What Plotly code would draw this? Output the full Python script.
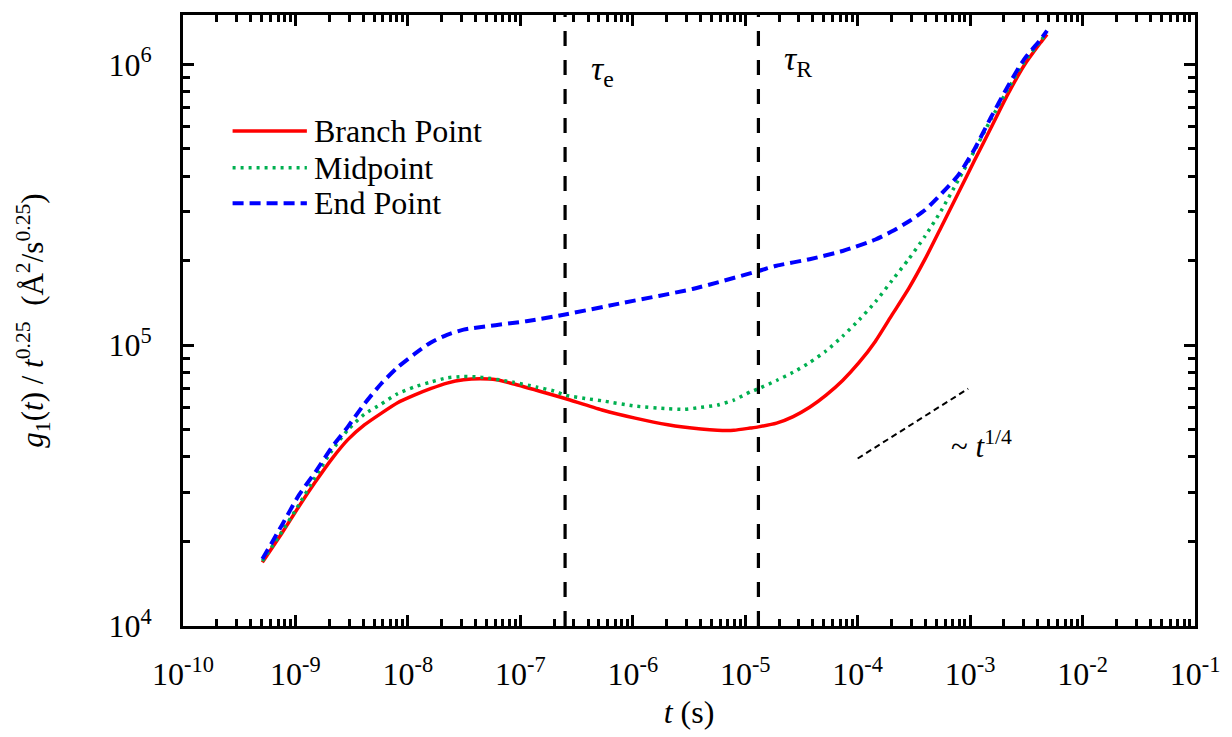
import numpy as np
import plotly.graph_objects as go

# ---------------- data ----------------
t_branch = [5.08e-10, 7.62e-10, 1.07e-9, 1.50e-9, 2.10e-9, 2.94e-9, 4.13e-9, 5.78e-9, 8.10e-9,
            1.14e-8, 1.59e-8, 2.23e-8, 3.13e-8, 4.38e-8, 6.14e-8, 8.61e-8, 1.69e-7, 2.50e-7,
            5.33e-7, 1.05e-6, 2.05e-6, 4.04e-6, 5.65e-6, 7.92e-6, 1.11e-5, 1.31e-5, 1.90e-5,
            2.67e-5, 3.74e-5, 5.24e-5, 7.35e-5, 1.03e-4, 1.44e-4, 2.02e-4, 2.84e-4, 3.97e-4,
            5.57e-4, 7.81e-4, 1.09e-3, 1.53e-3, 2.15e-3, 3.01e-3, 4.22e-3, 4.83e-3]
g_branch = [1.685e4, 2.147e4, 2.66e4, 3.254e4, 3.93e4, 4.62e4, 5.21e4, 5.72e4, 6.24e4,
            6.64e4, 7.00e4, 7.33e4, 7.53e4, 7.59e4, 7.53e4, 7.29e4, 6.76e4, 6.46e4,
            5.88e4, 5.50e4, 5.21e4, 5.03e4, 4.98e4, 4.98e4, 5.07e4, 5.12e4, 5.28e4,
            5.57e4, 6.01e4, 6.64e4, 7.49e4, 8.68e4, 1.034e5, 1.282e5, 1.590e5, 2.025e5,
            2.649e5, 3.468e5, 4.537e5, 5.935e5, 7.787e5, 9.89e5, 1.194e6, 1.28e6]

t_mid = [5.08e-10, 7.62e-10, 1.07e-9, 1.50e-9, 2.10e-9, 2.94e-9, 4.13e-9, 5.78e-9, 8.10e-9,
         1.14e-8, 1.59e-8, 2.23e-8, 3.13e-8, 4.38e-8, 8.61e-8, 1.38e-7, 2.00e-7, 2.50e-7,
         3.80e-7, 5.33e-7, 1.05e-6, 2.05e-6, 2.88e-6, 4.04e-6, 5.65e-6, 7.92e-6, 1.11e-5,
         1.31e-5, 1.90e-5, 2.67e-5, 3.74e-5, 5.24e-5, 7.35e-5, 1.03e-4, 1.44e-4, 2.02e-4,
         2.84e-4, 3.97e-4, 5.57e-4, 7.81e-4, 1.09e-3, 1.53e-3, 2.15e-3, 3.01e-3, 4.22e-3,
         4.83e-3]
g_mid = [1.703e4, 2.174e4, 2.70e4, 3.388e4, 4.20e4, 5.01e4, 5.69e4, 6.17e4, 6.72e4,
         7.10e4, 7.39e4, 7.65e4, 7.74e4, 7.70e4, 7.39e4, 7.10e4, 6.87e4, 6.64e4,
         6.46e4, 6.34e4, 6.07e4, 5.94e4, 5.91e4, 6.01e4, 6.12e4, 6.38e4, 6.82e4,
         7.00e4, 7.49e4, 8.01e4, 8.68e4, 9.54e4, 1.077e5, 1.231e5, 1.428e5, 1.700e5,
         2.025e5, 2.444e5, 3.03e5, 3.86e5, 4.92e5, 6.37e5, 8.11e5, 1.016e6, 1.211e6,
         1.30e6]

t_end = [5.08e-10, 7.62e-10, 1.07e-9, 1.50e-9, 2.10e-9, 2.94e-9, 4.13e-9, 5.78e-9, 8.10e-9,
         1.14e-8, 1.59e-8, 2.23e-8, 3.13e-8, 1.13e-7, 2.50e-7, 8.42e-7, 3.40e-6, 1.31e-5,
         1.90e-5, 3.74e-5, 7.35e-5, 1.44e-4, 2.02e-4, 2.84e-4, 3.97e-4, 5.57e-4, 7.81e-4,
         1.09e-3, 1.53e-3, 2.15e-3, 3.01e-3, 4.22e-3, 4.83e-3]
g_end = [1.731e4, 2.296e4, 2.92e4, 3.53e4, 4.32e4, 5.14e4, 6.20e4, 7.29e4, 8.34e4,
         9.29e4, 1.021e5, 1.089e5, 1.136e5, 1.218e5, 1.287e5, 1.419e5, 1.586e5, 1.838e5,
         1.919e5, 2.025e5, 2.166e5, 2.38e5, 2.544e5, 2.758e5, 3.03e5, 3.468e5, 4.02e5,
         4.98e5, 6.47e5, 8.31e5, 1.041e6, 1.225e6, 1.32e6]

t_guide = [1.0e-4, 9.6e-4]
g_guide = [3.95e4, 7.0e4]

tau_e = 2.5e-7
tau_R = 1.31e-5

series_names = ["Branch Point", "Midpoint", "End Point"]

x_tick_exps = list(range(-10, 0))
y_tick_exps = [4, 5, 6]
x_range_exp = [-10, -1]
y_range_val = [1e4, 1.5e6]

# ---------------- styling ----------------
FONT = "Liberation Serif, Times New Roman, serif"
styles = [
    dict(color="#FF0000", width=3.5, dash="solid"),
    dict(color="#00B050", width=3.5, dash="3px,5px"),
    dict(color="#0000FF", width=4, dash="11px,6px"),
]

fig = go.Figure()
for name, tx, gy, st in zip(series_names, [t_branch, t_mid, t_end],
                             [g_branch, g_mid, g_end], styles):
    fig.add_trace(go.Scatter(x=tx, y=gy, mode="lines", name=name,
                             line=dict(shape="spline", smoothing=0.6, **st),
                             showlegend=False))

# vertical reference lines
for tau in [tau_e, tau_R]:
    fig.add_trace(go.Scatter(x=[tau, tau], y=y_range_val, mode="lines",
                             line=dict(color="black", width=3.2, dash="15px,14px"),
                             showlegend=False, hoverinfo="skip"))

# t^1/4 guide
fig.add_trace(go.Scatter(x=t_guide, y=g_guide, mode="lines",
                         line=dict(color="black", width=2, dash="6px,4px"),
                         showlegend=False, hoverinfo="skip"))

# minor ticks
x_minor = [m * 10.0 ** k for k in range(-10, -1) for m in range(2, 10)]
y_minor = [m * 10.0 ** k for k in range(4, 6) for m in range(2, 10)]

axis_common = dict(
    showline=True, linecolor="black", linewidth=3, mirror="allticks",
    ticks="inside", ticklen=11, tickwidth=2.5, tickcolor="black",
    showgrid=False, zeroline=False,
    tickfont=dict(family=FONT, size=32, color="black"),
)

fig.update_xaxes(
    type="log", range=x_range_exp,
    tickmode="array", tickvals=[10.0 ** e for e in x_tick_exps],
    ticktext=[f"10<sup>{e}</sup>" for e in x_tick_exps],
    minor=dict(tickmode="array", tickvals=x_minor, ticks="inside", ticklen=7,
               tickwidth=2.5, tickcolor="black"),
    ticklabelstandoff=18,
    title=dict(text="<i>t</i> (s)", font=dict(family=FONT, size=32, color="black"),
               standoff=10),
    **axis_common,
)
fig.update_yaxes(
    type="log", range=[np.log10(y_range_val[0]), np.log10(y_range_val[1])],
    tickmode="array", tickvals=[10.0 ** e for e in y_tick_exps],
    ticktext=[f"10<sup>{e}</sup>" for e in y_tick_exps],
    minor=dict(tickmode="array", tickvals=y_minor, ticks="inside", ticklen=7,
               tickwidth=2.5, tickcolor="black"),
    ticklabelstandoff=22,
    title=dict(text="<i>g</i><sub>1</sub>(<i>t</i>) / <i>t</i><sup>0.25</sup>  (Å<sup>2</sup>/s<sup>0.25</sup>)",
               font=dict(family=FONT, size=31, color="black"), standoff=56),
    **axis_common,
)

# annotations
ann_font = dict(family=FONT, size=34, color="black")
fig.add_annotation(x=np.log10(tau_e), y=0.908, xref="x", yref="paper",
                   text="<i>τ</i><sub>e</sub>", showarrow=False,
                   xanchor="left", yanchor="middle", xshift=24, font=ann_font)
fig.add_annotation(x=np.log10(tau_R), y=0.925, xref="x", yref="paper",
                   text="<i>τ</i><sub>R</sub>", showarrow=False,
                   xanchor="left", yanchor="middle", xshift=24, font=ann_font)
fig.add_annotation(x=-2.90, y=4.645, xref="x", yref="y",
                   text="~ <i>t</i><sup>1/4</sup>", showarrow=False,
                   font=dict(family=FONT, size=31, color="black"))

# manual legend (sample lines + labels)
leg_y = [0.810, 0.750, 0.692]
for name, st, yy in zip(series_names, styles, leg_y):
    fig.add_shape(type="line", xref="paper", yref="paper",
                  x0=0.049, x1=0.1224, y0=yy, y1=yy,
                  line=dict(color=st["color"], width=st["width"], dash=st["dash"]))
    fig.add_annotation(x=0.1273, y=yy, xref="paper", yref="paper", text=name,
                       showarrow=False, xanchor="left", yanchor="middle",
                       font=dict(family=FONT, size=32, color="black"))

fig.update_layout(
    width=1232, height=737, autosize=False,
    margin=dict(l=183, r=28, t=12, b=104),
    paper_bgcolor="white", plot_bgcolor="white",
    font=dict(family=FONT, color="black"),
)

fig.write_html("out.html")
